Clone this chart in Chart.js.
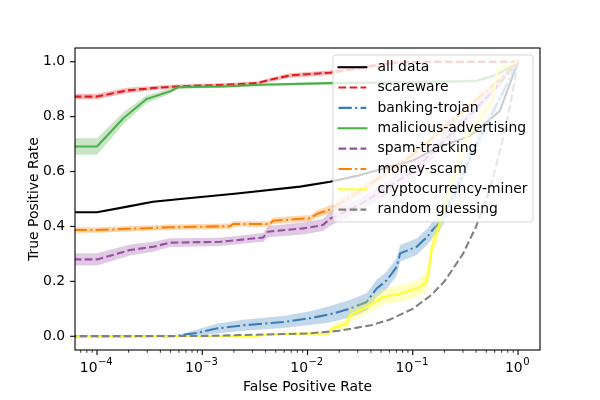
<!DOCTYPE html>
<html>
<head>
<meta charset="utf-8">
<script src="https://cdn.jsdelivr.net/npm/chart.js@4.4.0/dist/chart.umd.min.js"></script>
<style>
  body { margin: 0; background: #fff; }
  #wrap { width: 600px; height: 400px; }
</style>
</head>
<body>
<div id="wrap"><canvas id="myChart" width="600" height="400"></canvas></div>
<script>
// series names (legend order)
const seriesNames = ['all data', 'scareware', 'banking-trojan', 'malicious-advertising',
  'spam-tracking', 'money-scam', 'cryptocurrency-miner', 'random guessing'];

// tick labels
const xTickPowers = [-4, -3, -2, -1, 0];
const yTicks = [0.0, 0.2, 0.4, 0.6, 0.8, 1.0];

// all data
const allFpr = [6e-5, 1e-4, 2.06e-4, 3.4e-4, 6.2e-4, 2.14e-3, 8.5e-3, 1.64e-2, 3.16e-2, 0.1, 0.17, 0.35, 0.67, 1];
const allTpr = [0.452, 0.452, 0.474, 0.49, 0.50, 0.52, 0.545, 0.563, 0.587, 0.64, 0.686, 0.73, 0.82, 1.0];

// scareware
const scareFpr = [6e-5, 1e-4, 1.9e-4, 3.4e-4, 5.7e-4, 1.6e-3, 3.3e-3, 4.4e-3, 6.8e-3, 1.64e-2, 3.16e-2, 6.1e-2, 9.4e-2, 1];
const scareTpr = [0.873, 0.873, 0.895, 0.904, 0.91, 0.916, 0.922, 0.934, 0.95, 0.96, 0.978, 0.995, 1.0, 1.0];
const scareErr = [0.01, 0.01, 0.01, 0.008, 0.007, 0.006, 0.006, 0.007, 0.008, 0.008, 0.008, 0.005, 0, 0];

// banking-trojan
const bankFpr = [6e-5, 5.3e-4, 8.85e-4, 1.37e-3, 2.45e-3, 5.9e-3, 1.06e-2, 1.64e-2, 2.54e-2, 3.65e-2, 4.54e-2, 5.66e-2,
  7.04e-2, 7.59e-2, 0.109, 0.137, 0.159, 0.178, 0.25, 0.35, 0.5, 0.7, 1];
const bankTpr = [0, 0, 0.012, 0.028, 0.04, 0.052, 0.066, 0.08, 0.101, 0.125, 0.174, 0.204,
  0.253, 0.302, 0.326, 0.362, 0.393, 0.411, 0.52, 0.65, 0.77, 0.88, 1];
const bankErr = [0, 0, 0.012, 0.018, 0.02, 0.022, 0.025, 0.03, 0.032, 0.032, 0.032, 0.032,
  0.032, 0.03, 0.03, 0.03, 0.03, 0.03, 0.03, 0.025, 0.02, 0.015, 0];

// malicious-advertising
const malFpr = [6e-5, 1e-4, 1.78e-4, 2.96e-4, 4.94e-4, 5.9e-4, 1.6e-3, 3.54e-3, 1.64e-2, 0.1, 0.4, 0.6, 0.8, 1];
const malTpr = [0.691, 0.691, 0.794, 0.864, 0.892, 0.907, 0.91, 0.916, 0.922, 0.925, 0.93, 0.95, 0.975, 1];
const malErr = [0.03, 0.03, 0.022, 0.014, 0.01, 0.006, 0.005, 0.005, 0.005, 0.005, 0.006, 0.008, 0.006, 0];

// spam-tracking
const spamFpr = [6e-5, 1e-4, 2.06e-4, 3.42e-4, 4.94e-4, 1.48e-3, 2.12e-3, 3.8e-3, 4.2e-3, 9.1e-3, 1.4e-2, 1.64e-2,
  3.16e-2, 0.1, 0.3, 0.6, 1];
const spamTpr = [0.28, 0.28, 0.314, 0.326, 0.341, 0.344, 0.35, 0.36, 0.381, 0.393, 0.405, 0.428,
  0.48, 0.6, 0.78, 0.9, 1];
const spamErr = [0.022, 0.022, 0.02, 0.018, 0.016, 0.015, 0.015, 0.016, 0.02, 0.022, 0.022, 0.025,
  0.025, 0.025, 0.02, 0.015, 0];

// money-scam
const moneyFpr = [6e-5, 1e-4, 4.94e-4, 1.84e-3, 1.96e-3, 4.4e-3, 4.7e-3, 1.06e-2, 1.22e-2, 1.64e-2, 3.16e-2, 0.1, 0.3, 0.6, 1];
const moneyTpr = [0.387, 0.387, 0.397, 0.401, 0.409, 0.409, 0.421, 0.43, 0.445, 0.462, 0.53, 0.66, 0.82, 0.92, 1];
const moneyErr = [0.01, 0.01, 0.01, 0.01, 0.01, 0.01, 0.012, 0.012, 0.013, 0.015, 0.015, 0.015, 0.012, 0.01, 0];

// cryptocurrency-miner
const cryptoFpr = [6e-5, 3e-3, 5e-3, 1.6e-2, 1.7e-2, 2.36e-2, 2.54e-2, 3.65e-2, 5.24e-2, 7.59e-2, 0.109, 0.131,
  0.141, 0.152, 0.169, 0.18, 0.226, 0.327, 0.45, 0.58, 0.63, 1];
const cryptoTpr = [0, 0, 0.008, 0.01, 0.028, 0.046, 0.077, 0.107, 0.143, 0.156, 0.174, 0.192,
  0.229, 0.326, 0.375, 0.411, 0.54, 0.73, 0.8, 0.86, 0.97, 1];
const cryptoErr = [0, 0, 0.005, 0.008, 0.015, 0.02, 0.025, 0.025, 0.028, 0.03, 0.03, 0.035,
  0.04, 0.04, 0.04, 0.035, 0.03, 0.03, 0.03, 0.02, 0.01, 0];

// random guessing
const randomFpr = [1e-5, 1e-3, 1e-2, 0.02, 0.04, 0.06, 0.1, 0.15, 0.2, 0.3, 0.4, 0.5, 0.6, 0.7, 0.8, 0.9, 1];
const randomTpr = [1e-5, 1e-3, 1e-2, 0.02, 0.04, 0.06, 0.1, 0.15, 0.2, 0.3, 0.4, 0.5, 0.6, 0.7, 0.8, 0.9, 1];

const FONT = '"DejaVu Sans", sans-serif';
const FS = 13.9;
const LW = 2.08;
const DASHED = [7.7, 3.3];
const DASHDOT = [13.3, 3.3, 2.1, 3.3];

// drawing order = legend order
const series = [
  { fpr: allFpr, tpr: allTpr, err: null, color: '#000000', rgb: '0,0,0', dash: [] },
  { fpr: scareFpr, tpr: scareTpr, err: scareErr, color: '#e41a1c', rgb: '228,26,28', dash: DASHED },
  { fpr: bankFpr, tpr: bankTpr, err: bankErr, color: '#377eb8', rgb: '55,126,184', dash: DASHDOT },
  { fpr: malFpr, tpr: malTpr, err: malErr, color: '#4daf4a', rgb: '77,175,74', dash: [] },
  { fpr: spamFpr, tpr: spamTpr, err: spamErr, color: '#984ea3', rgb: '152,78,163', dash: DASHED },
  { fpr: moneyFpr, tpr: moneyTpr, err: moneyErr, color: '#ff7f00', rgb: '255,127,0', dash: DASHDOT },
  { fpr: cryptoFpr, tpr: cryptoTpr, err: cryptoErr, color: '#ffff33', rgb: '255,255,51', dash: [] },
  { fpr: randomFpr, tpr: randomTpr, err: null, color: '#808080', rgb: '128,128,128', dash: DASHED },
];

const datasets = [];
series.forEach((s, i) => {
  if (s.err) {
    datasets.push({
      label: seriesNames[i] + ' hi',
      data: s.fpr.map((x, k) => ({ x: x, y: s.tpr[k] + s.err[k] })),
      borderColor: 'rgba(0,0,0,0)',
      borderWidth: 0,
      backgroundColor: 'rgba(' + s.rgb + ',0.3)',
      fill: '+1',
      pointRadius: 0,
      clip: 0
    });
    datasets.push({
      label: seriesNames[i] + ' lo',
      data: s.fpr.map((x, k) => ({ x: x, y: s.tpr[k] - s.err[k] })),
      borderColor: 'rgba(0,0,0,0)',
      borderWidth: 0,
      fill: false,
      pointRadius: 0,
      clip: 0
    });
  }
  datasets.push({
    label: seriesNames[i],
    data: s.fpr.map((x, k) => ({ x: x, y: s.tpr[k] })),
    borderColor: s.color,
    borderWidth: LW,
    borderDash: s.dash,
    borderCapStyle: s.dash.length ? 'butt' : 'square',
    borderJoinStyle: 'round',
    fill: false,
    pointRadius: 0,
    clip: 0
  });
});
// first in array drawn first
datasets.forEach((d, i) => { d.order = datasets.length - i; });

function strokeLine(c, x1, y1, x2, y2) {
  c.beginPath();
  c.moveTo(x1, y1);
  c.lineTo(x2, y2);
  c.stroke();
}

const axesPlugin = {
  id: 'axesPlugin',
  afterDraw(chart) {
    const c = chart.ctx;
    const a = chart.chartArea;
    const xs = chart.scales.x, ys = chart.scales.y;
    c.save();
    c.strokeStyle = '#000';
    c.fillStyle = '#000';

    // x ticks, major + minor
    c.lineWidth = 1.1;
    xTickPowers.forEach(p => {
      const px = xs.getPixelForValue(Math.pow(10, p));
      strokeLine(c, px, a.bottom, px, a.bottom + 4.9);
    });
    c.lineWidth = 0.8;
    for (let p = -5; p <= 0; p++) {
      for (let m = 2; m <= 9; m++) {
        const v = m * Math.pow(10, p);
        if (v < xs.min || v > xs.max) continue;
        const px = xs.getPixelForValue(v);
        strokeLine(c, px, a.bottom, px, a.bottom + 2.8);
      }
    }
    // y ticks
    c.lineWidth = 1.1;
    yTicks.forEach(v => {
      const py = ys.getPixelForValue(v);
      strokeLine(c, a.left, py, a.left - 4.9, py);
    });

    // spines
    c.lineWidth = 1.1;
    c.strokeRect(a.left, a.top, a.right - a.left, a.bottom - a.top);

    // x tick labels 10^p
    xTickPowers.forEach(p => {
      const px = xs.getPixelForValue(Math.pow(10, p));
      const base = '10';
      const sup = p < 0 ? '\u2212' + Math.abs(p) : String(p);
      c.font = FS + 'px ' + FONT;
      const wb = c.measureText(base).width;
      c.font = (FS * 0.72) + 'px ' + FONT;
      const ws = c.measureText(sup).width;
      const x0 = px - (wb + ws) / 2 - 1;
      c.textAlign = 'left';
      c.textBaseline = 'alphabetic';
      c.font = FS + 'px ' + FONT;
      c.fillText(base, x0, a.bottom + 22);
      c.font = (FS * 0.72) + 'px ' + FONT;
      c.fillText(sup, x0 + wb + 0.5, a.bottom + 15);
    });

    // y tick labels
    c.font = FS + 'px ' + FONT;
    c.textAlign = 'right';
    c.textBaseline = 'middle';
    yTicks.forEach(v => {
      c.fillText(v.toFixed(1), a.left - 9.8, ys.getPixelForValue(v));
    });

    // axis titles
    c.textAlign = 'center';
    c.textBaseline = 'alphabetic';
    c.fillText('False Positive Rate', (a.left + a.right) / 2, a.bottom + 41);
    c.save();
    c.translate(38, (a.top + a.bottom) / 2);
    c.rotate(-Math.PI / 2);
    c.fillText('True Positive Rate', 0, 0);
    c.restore();

    // legend
    const pad = 5.56, handleLen = 27.8, textPad = 11.1, rowH = 13.4, rowGap = 6.95;
    c.font = FS + 'px ' + FONT;
    let maxW = 0;
    seriesNames.forEach(n => { maxW = Math.max(maxW, c.measureText(n).width); });
    const boxW = 2 * pad + handleLen + textPad + maxW;
    const boxH = 2 * pad + seriesNames.length * rowH + (seriesNames.length - 1) * rowGap;
    const bx = a.right - 6.95 - boxW;
    const by = a.top + 6.95;
    c.beginPath();
    c.roundRect(bx, by, boxW, boxH, 2.8);
    c.fillStyle = 'rgba(255,255,255,0.8)';
    c.fill();
    c.strokeStyle = 'rgba(204,204,204,0.8)';
    c.lineWidth = 1;
    c.stroke();
    c.textAlign = 'left';
    c.textBaseline = 'middle';
    seriesNames.forEach((n, i) => {
      const cy = by + pad + rowH / 2 + i * (rowH + rowGap);
      const s = series[i];
      c.strokeStyle = s.color;
      c.lineWidth = LW;
      c.setLineDash(s.dash);
      c.lineCap = s.dash.length ? 'butt' : 'square';
      strokeLine(c, bx + pad, cy, bx + pad + handleLen, cy);
      c.setLineDash([]);
      c.fillStyle = '#000';
      c.fillText(n, bx + pad + handleLen + textPad, cy);
    });
    c.restore();
  }
};

const ctx = document.getElementById('myChart');

new Chart(ctx, {
  type: 'line',
  data: { datasets: datasets },
  options: {
    responsive: false,
    devicePixelRatio: 1,
    animation: false,
    events: [],
    layout: { padding: { left: 75, right: 60, top: 48, bottom: 50 } },
    scales: {
      x: { type: 'logarithmic', min: Math.pow(10, -4.209), max: Math.pow(10, 0.209), display: false },
      y: { type: 'linear', min: -0.05, max: 1.05, display: false }
    },
    plugins: {
      legend: { display: false },
      tooltip: { enabled: false }
    }
  },
  plugins: [axesPlugin]
});
</script>
</body>
</html>
